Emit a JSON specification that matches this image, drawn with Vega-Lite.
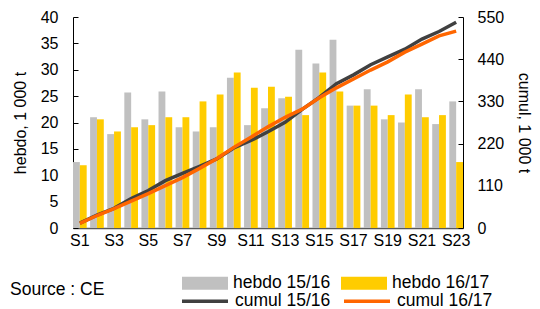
{
  "$schema": "https://vega.github.io/schema/vega-lite/v6.json",
  "autosize": "none",
  "width": 390,
  "height": 211,
  "padding": {"left": 73, "top": 17, "right": 77, "bottom": 81},
  "background": "white",
  "config": {
    "view": {"stroke": null},
    "font": "Liberation Sans",
    "axis": {"labelFont": "Liberation Sans", "titleFont": "Liberation Sans", "labelColor": "#000", "titleColor": "#000", "grid": false, "titleFontWeight": "normal"},
    "legend": {"labelFont": "Liberation Sans", "labelColor": "#000"}
  },
  "title": {"text": "Source : CE", "orient": "bottom", "anchor": "start", "frame": "group", "dx": -63, "dy": -32, "offset": 3, "fontSize": 17.5, "fontWeight": "normal", "font": "Liberation Sans", "color": "#000"},
  "data": {"values": [
    {"semaine": "S1", "serie": "hebdo 15/16", "valeur": 12.5},
    {"semaine": "S2", "serie": "hebdo 15/16", "valeur": 21.0},
    {"semaine": "S3", "serie": "hebdo 15/16", "valeur": 17.8},
    {"semaine": "S4", "serie": "hebdo 15/16", "valeur": 25.7},
    {"semaine": "S5", "serie": "hebdo 15/16", "valeur": 20.6},
    {"semaine": "S6", "serie": "hebdo 15/16", "valeur": 25.9},
    {"semaine": "S7", "serie": "hebdo 15/16", "valeur": 19.1},
    {"semaine": "S8", "serie": "hebdo 15/16", "valeur": 18.3},
    {"semaine": "S9", "serie": "hebdo 15/16", "valeur": 19.1},
    {"semaine": "S10", "serie": "hebdo 15/16", "valeur": 28.5},
    {"semaine": "S11", "serie": "hebdo 15/16", "valeur": 19.5},
    {"semaine": "S12", "serie": "hebdo 15/16", "valeur": 22.7},
    {"semaine": "S13", "serie": "hebdo 15/16", "valeur": 24.6},
    {"semaine": "S14", "serie": "hebdo 15/16", "valeur": 33.8},
    {"semaine": "S15", "serie": "hebdo 15/16", "valeur": 31.2},
    {"semaine": "S16", "serie": "hebdo 15/16", "valeur": 35.7},
    {"semaine": "S17", "serie": "hebdo 15/16", "valeur": 23.2},
    {"semaine": "S18", "serie": "hebdo 15/16", "valeur": 26.3},
    {"semaine": "S19", "serie": "hebdo 15/16", "valeur": 20.6},
    {"semaine": "S20", "serie": "hebdo 15/16", "valeur": 20.0},
    {"semaine": "S21", "serie": "hebdo 15/16", "valeur": 26.3},
    {"semaine": "S22", "serie": "hebdo 15/16", "valeur": 19.7},
    {"semaine": "S23", "serie": "hebdo 15/16", "valeur": 24.0},
    {"semaine": "S1", "serie": "hebdo 16/17", "valeur": 11.9},
    {"semaine": "S2", "serie": "hebdo 16/17", "valeur": 20.6},
    {"semaine": "S3", "serie": "hebdo 16/17", "valeur": 18.3},
    {"semaine": "S4", "serie": "hebdo 16/17", "valeur": 19.1},
    {"semaine": "S5", "serie": "hebdo 16/17", "valeur": 19.5},
    {"semaine": "S6", "serie": "hebdo 16/17", "valeur": 21.0},
    {"semaine": "S7", "serie": "hebdo 16/17", "valeur": 21.0},
    {"semaine": "S8", "serie": "hebdo 16/17", "valeur": 24.0},
    {"semaine": "S9", "serie": "hebdo 16/17", "valeur": 25.3},
    {"semaine": "S10", "serie": "hebdo 16/17", "valeur": 29.5},
    {"semaine": "S11", "serie": "hebdo 16/17", "valeur": 26.6},
    {"semaine": "S12", "serie": "hebdo 16/17", "valeur": 26.8},
    {"semaine": "S13", "serie": "hebdo 16/17", "valeur": 24.9},
    {"semaine": "S14", "serie": "hebdo 16/17", "valeur": 21.4},
    {"semaine": "S15", "serie": "hebdo 16/17", "valeur": 29.5},
    {"semaine": "S16", "serie": "hebdo 16/17", "valeur": 25.9},
    {"semaine": "S17", "serie": "hebdo 16/17", "valeur": 23.2},
    {"semaine": "S18", "serie": "hebdo 16/17", "valeur": 23.2},
    {"semaine": "S19", "serie": "hebdo 16/17", "valeur": 21.4},
    {"semaine": "S20", "serie": "hebdo 16/17", "valeur": 25.3},
    {"semaine": "S21", "serie": "hebdo 16/17", "valeur": 21.0},
    {"semaine": "S22", "serie": "hebdo 16/17", "valeur": 21.4},
    {"semaine": "S23", "serie": "hebdo 16/17", "valeur": 12.5},
    {"semaine": "S1", "serie": "cumul 15/16", "valeur": 12.5},
    {"semaine": "S2", "serie": "cumul 15/16", "valeur": 33.5},
    {"semaine": "S3", "serie": "cumul 15/16", "valeur": 51.3},
    {"semaine": "S4", "serie": "cumul 15/16", "valeur": 77.0},
    {"semaine": "S5", "serie": "cumul 15/16", "valeur": 97.6},
    {"semaine": "S6", "serie": "cumul 15/16", "valeur": 123.5},
    {"semaine": "S7", "serie": "cumul 15/16", "valeur": 142.6},
    {"semaine": "S8", "serie": "cumul 15/16", "valeur": 160.9},
    {"semaine": "S9", "serie": "cumul 15/16", "valeur": 180.0},
    {"semaine": "S10", "serie": "cumul 15/16", "valeur": 208.5},
    {"semaine": "S11", "serie": "cumul 15/16", "valeur": 228.0},
    {"semaine": "S12", "serie": "cumul 15/16", "valeur": 250.7},
    {"semaine": "S13", "serie": "cumul 15/16", "valeur": 275.3},
    {"semaine": "S14", "serie": "cumul 15/16", "valeur": 309.1},
    {"semaine": "S15", "serie": "cumul 15/16", "valeur": 340.3},
    {"semaine": "S16", "serie": "cumul 15/16", "valeur": 376.0},
    {"semaine": "S17", "serie": "cumul 15/16", "valeur": 399.2},
    {"semaine": "S18", "serie": "cumul 15/16", "valeur": 425.5},
    {"semaine": "S19", "serie": "cumul 15/16", "valeur": 446.1},
    {"semaine": "S20", "serie": "cumul 15/16", "valeur": 466.1},
    {"semaine": "S21", "serie": "cumul 15/16", "valeur": 492.4},
    {"semaine": "S22", "serie": "cumul 15/16", "valeur": 512.1},
    {"semaine": "S23", "serie": "cumul 15/16", "valeur": 536.1},
    {"semaine": "S1", "serie": "cumul 16/17", "valeur": 11.9},
    {"semaine": "S2", "serie": "cumul 16/17", "valeur": 32.5},
    {"semaine": "S3", "serie": "cumul 16/17", "valeur": 50.8},
    {"semaine": "S4", "serie": "cumul 16/17", "valeur": 69.9},
    {"semaine": "S5", "serie": "cumul 16/17", "valeur": 89.4},
    {"semaine": "S6", "serie": "cumul 16/17", "valeur": 110.4},
    {"semaine": "S7", "serie": "cumul 16/17", "valeur": 131.4},
    {"semaine": "S8", "serie": "cumul 16/17", "valeur": 155.4},
    {"semaine": "S9", "serie": "cumul 16/17", "valeur": 180.7},
    {"semaine": "S10", "serie": "cumul 16/17", "valeur": 210.2},
    {"semaine": "S11", "serie": "cumul 16/17", "valeur": 236.8},
    {"semaine": "S12", "serie": "cumul 16/17", "valeur": 263.6},
    {"semaine": "S13", "serie": "cumul 16/17", "valeur": 288.5},
    {"semaine": "S14", "serie": "cumul 16/17", "valeur": 309.9},
    {"semaine": "S15", "serie": "cumul 16/17", "valeur": 339.4},
    {"semaine": "S16", "serie": "cumul 16/17", "valeur": 365.3},
    {"semaine": "S17", "serie": "cumul 16/17", "valeur": 388.5},
    {"semaine": "S18", "serie": "cumul 16/17", "valeur": 411.7},
    {"semaine": "S19", "serie": "cumul 16/17", "valeur": 433.1},
    {"semaine": "S20", "serie": "cumul 16/17", "valeur": 458.4},
    {"semaine": "S21", "serie": "cumul 16/17", "valeur": 479.4},
    {"semaine": "S22", "serie": "cumul 16/17", "valeur": 500.8},
    {"semaine": "S23", "serie": "cumul 16/17", "valeur": 513.3}
  ]},
  "layer": [
    {
      "transform": [{"filter": {"field": "serie", "oneOf": ["hebdo 15/16", "hebdo 16/17"]}}],
      "mark": {"type": "bar"},
      "encoding": {
        "x": {"field": "semaine", "type": "nominal",
          "scale": {"domain": ["S1","S2","S3","S4","S5","S6","S7","S8","S9","S10","S11","S12","S13","S14","S15","S16","S17","S18","S19","S20","S21","S22","S23"], "paddingInner": 0.2, "paddingOuter": 0},
          "axis": {"title": null, "values": ["S1","S3","S5","S7","S9","S11","S13","S15","S17","S19","S21","S23"], "labelAngle": 0, "labelFontSize": 16, "labelOverlap": false, "ticks": false, "labelPadding": 4, "domainColor": "#595959", "domainWidth": 1.5}},
        "xOffset": {"field": "serie", "type": "nominal", "sort": ["hebdo 15/16", "hebdo 16/17"], "scale": {"paddingInner": 0, "paddingOuter": 0}},
        "y": {"field": "valeur", "type": "quantitative",
          "scale": {"domain": [0, 40], "nice": false},
          "axis": {"title": "hebdo, 1 000 t", "values": [0,5,10,15,20,25,30,35,40], "labelFontSize": 16, "titleFontSize": 16, "tickSize": -5, "tickColor": "#000", "domainColor": "#000", "labelPadding": 20, "titlePadding": 12}},
        "color": {"field": "serie", "type": "nominal",
          "scale": {"domain": ["hebdo 15/16", "hebdo 16/17"], "range": ["#C0C0C0", "#FFCC00"]},
          "legend": {"orient": "none", "legendX": 109, "legendY": 243, "direction": "horizontal", "title": null, "symbolType": "M-1,-0.28H1V0.28H-1Z", "symbolSize": 2116, "symbolStrokeWidth": 0, "symbolOpacity": 1, "labelFontSize": 17.5, "labelOffset": 5, "columnPadding": 10}}
      }
    },
    {
      "transform": [{"filter": {"field": "serie", "oneOf": ["cumul 15/16", "cumul 16/17"]}}],
      "mark": {"type": "line", "strokeWidth": 3.5},
      "encoding": {
        "x": {"field": "semaine", "type": "nominal", "sort": ["S1","S2","S3","S4","S5","S6","S7","S8","S9","S10","S11","S12","S13","S14","S15","S16","S17","S18","S19","S20","S21","S22","S23"]},
        "y": {"field": "valeur", "type": "quantitative",
          "scale": {"domain": [0, 550], "nice": false},
          "axis": {"orient": "right", "title": "cumul, 1 000 t", "values": [0,110,220,330,440,550], "labelFontSize": 16, "titleFontSize": 16, "tickSize": -5, "tickColor": "#000", "domainColor": "#000", "labelPadding": 19, "titlePadding": 12}},
        "stroke": {"field": "serie", "type": "nominal",
          "scale": {"domain": ["cumul 15/16", "cumul 16/17"], "range": ["#404040", "#FF6600"]},
          "legend": {"orient": "none", "legendX": 107, "legendY": 259, "direction": "horizontal", "title": null, "symbolType": "stroke", "symbolSize": 2116, "symbolStrokeWidth": 3.5, "labelFontSize": 17.5, "labelOffset": 5, "columnPadding": 6}}
      }
    }
  ],
  "resolve": {"scale": {"y": "independent"}}
}
